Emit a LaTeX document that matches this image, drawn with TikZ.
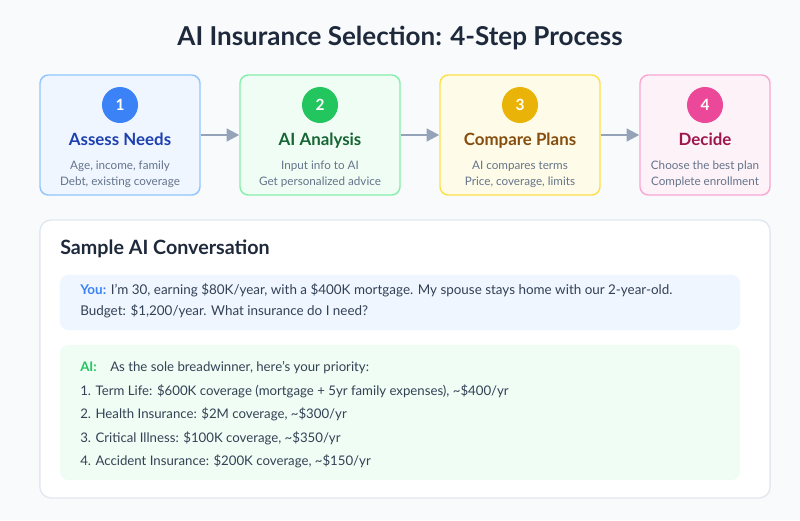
\documentclass[tikz,border=0pt]{standalone}
\usepackage{fontspec}
\setmainfont{Lato}
\usetikzlibrary{arrows.meta,positioning}
\definecolor{pagebg}{HTML}{F8FAFC}
\definecolor{titlecol}{HTML}{1E293B}
\definecolor{arrowcol}{HTML}{94A3B8}
\definecolor{subcol}{HTML}{64748B}
\definecolor{textcol}{HTML}{334155}
\definecolor{panelline}{HTML}{E2E8F0}
\definecolor{blueline}{HTML}{93C5FD}\definecolor{bluefill}{HTML}{EFF6FF}\definecolor{bluedot}{HTML}{3B82F6}\definecolor{bluetext}{HTML}{1E40AF}
\definecolor{greenline}{HTML}{86EFAC}\definecolor{greenfill}{HTML}{F0FDF4}\definecolor{greendot}{HTML}{22C55E}\definecolor{greentext}{HTML}{166534}
\definecolor{yellowline}{HTML}{FDE047}\definecolor{yellowfill}{HTML}{FEFCE8}\definecolor{yellowdot}{HTML}{EAB308}\definecolor{yellowtext}{HTML}{854D0E}
\definecolor{pinkline}{HTML}{F9A8D4}\definecolor{pinkfill}{HTML}{FDF2F8}\definecolor{pinkdot}{HTML}{EC4899}\definecolor{pinktext}{HTML}{9D174D}

\begin{document}
\begin{tikzpicture}[x=0.025cm,y=-0.025cm,
  stepbox/.style={draw,line width=1pt,rounded corners=6pt,minimum width=4cm,minimum height=3cm,inner sep=0pt},
  dot/.style={circle,minimum size=0.9cm,inner sep=0pt,text=white,font=\fontsize{11}{13}\selectfont\bfseries},
  steptitle/.style={anchor=base,inner sep=0pt,font=\fontsize{12}{14}\selectfont\bfseries},
  sub/.style={anchor=base,inner sep=0pt,text=subcol,font=\fontsize{8.3}{10}\selectfont},
  flow/.style={arrowcol,line width=1.6pt,-{Triangle[length=9pt,width=9pt]}},
  chat/.style={anchor=base west,inner sep=0pt,text=textcol,font=\fontsize{9.55}{12}\selectfont},
  item/.style={anchor=base west,inner sep=0pt,text=textcol,font=\fontsize{9.4}{11}\selectfont}]
\useasboundingbox[fill=pagebg](0,0)rectangle(800,520);
\node[anchor=base,inner sep=0pt,text=titlecol,font=\fontsize{18.5}{22}\selectfont\bfseries](title) at (400,45){AI Insurance Selection: 4-Step Process};
% step boxes
\node[stepbox,draw=blueline,fill=bluefill](step1) at (120,135){};
\node[stepbox,draw=greenline,fill=greenfill](step2) at (320,135){};
\node[stepbox,draw=yellowline,fill=yellowfill](step3) at (520,135){};
\node[stepbox,draw=pinkline,fill=pinkfill,minimum width=3.25cm](step4) at (705,135){};
\node[dot,fill=bluedot](num1) at (120,105){1};
\node[dot,fill=greendot](num2) at (320,105){2};
\node[dot,fill=yellowdot](num3) at (520,105){3};
\node[dot,fill=pinkdot](num4) at (705,105){4};
\node[steptitle,text=bluetext](name1) at (120,145){Assess Needs};
\node[steptitle,text=greentext](name2) at (320,145){AI Analysis};
\node[steptitle,text=yellowtext](name3) at (520,145){Compare Plans};
\node[steptitle,text=pinktext](name4) at (705,145){Decide};
\node[sub](desc1a) at (120,169){Age, income, family};
\node[sub](desc1b) at (120,185){Debt, existing coverage};
\node[sub](desc2a) at (320,169){Input info to AI};
\node[sub](desc2b) at (320,185){Get personalized advice};
\node[sub](desc3a) at (520,169){AI compares terms};
\node[sub](desc3b) at (520,185){Price, coverage, limits};
\node[sub](desc4a) at (705,169){Choose the best plan};
\node[sub](desc4b) at (705,185){Complete enrollment};
\draw[flow](step1)--(step2);
\draw[flow](step2)--(step3);
\draw[flow](step3)--(step4);
% conversation panel
\node[draw=panelline,line width=1pt,fill=white,rounded corners=8pt,minimum width=18.25cm,minimum height=6.95cm,inner sep=0pt](panel) at (405,359){};
\node[anchor=base west,inner sep=0pt,text=titlecol,font=\fontsize{14}{16}\selectfont\bfseries](heading) at (60,254){Sample AI Conversation};
\node[fill=bluefill,rounded corners=6pt,minimum width=17cm,minimum height=1.375cm,inner sep=0pt](youbox) at (400,302.5){};
\node[fill=greenfill,rounded corners=6pt,minimum width=17cm,minimum height=3.375cm,inner sep=0pt](aibox) at (400,412.5){};
\node[chat](you1) at (80,294){\textcolor{bluedot}{\bfseries You:} I'm 30, earning \$80K/year, with a \$400K mortgage. My spouse stays home with our 2-year-old.};
\node[chat](you2) at (80,315){Budget: \$1,200/year. What insurance do I need?};
\node[item,text=greendot,font=\fontsize{9.4}{11}\selectfont\bfseries](ailab) at (80,371){AI:};
\node[item](ai0) at (110,371){As the sole breadwinner, here's your priority:};
\node[item](ai1) at (80,395){1. Term Life: \$600K coverage (mortgage + 5yr family expenses), \textasciitilde\$400/yr};
\node[item](ai2) at (80,418){2. Health Insurance: \$2M coverage, \textasciitilde\$300/yr};
\node[item](ai3) at (80,442){3. Critical Illness: \$100K coverage, \textasciitilde\$350/yr};
\node[item](ai4) at (80,465){4. Accident Insurance: \$200K coverage, \textasciitilde\$150/yr};
\end{tikzpicture}
\end{document}
